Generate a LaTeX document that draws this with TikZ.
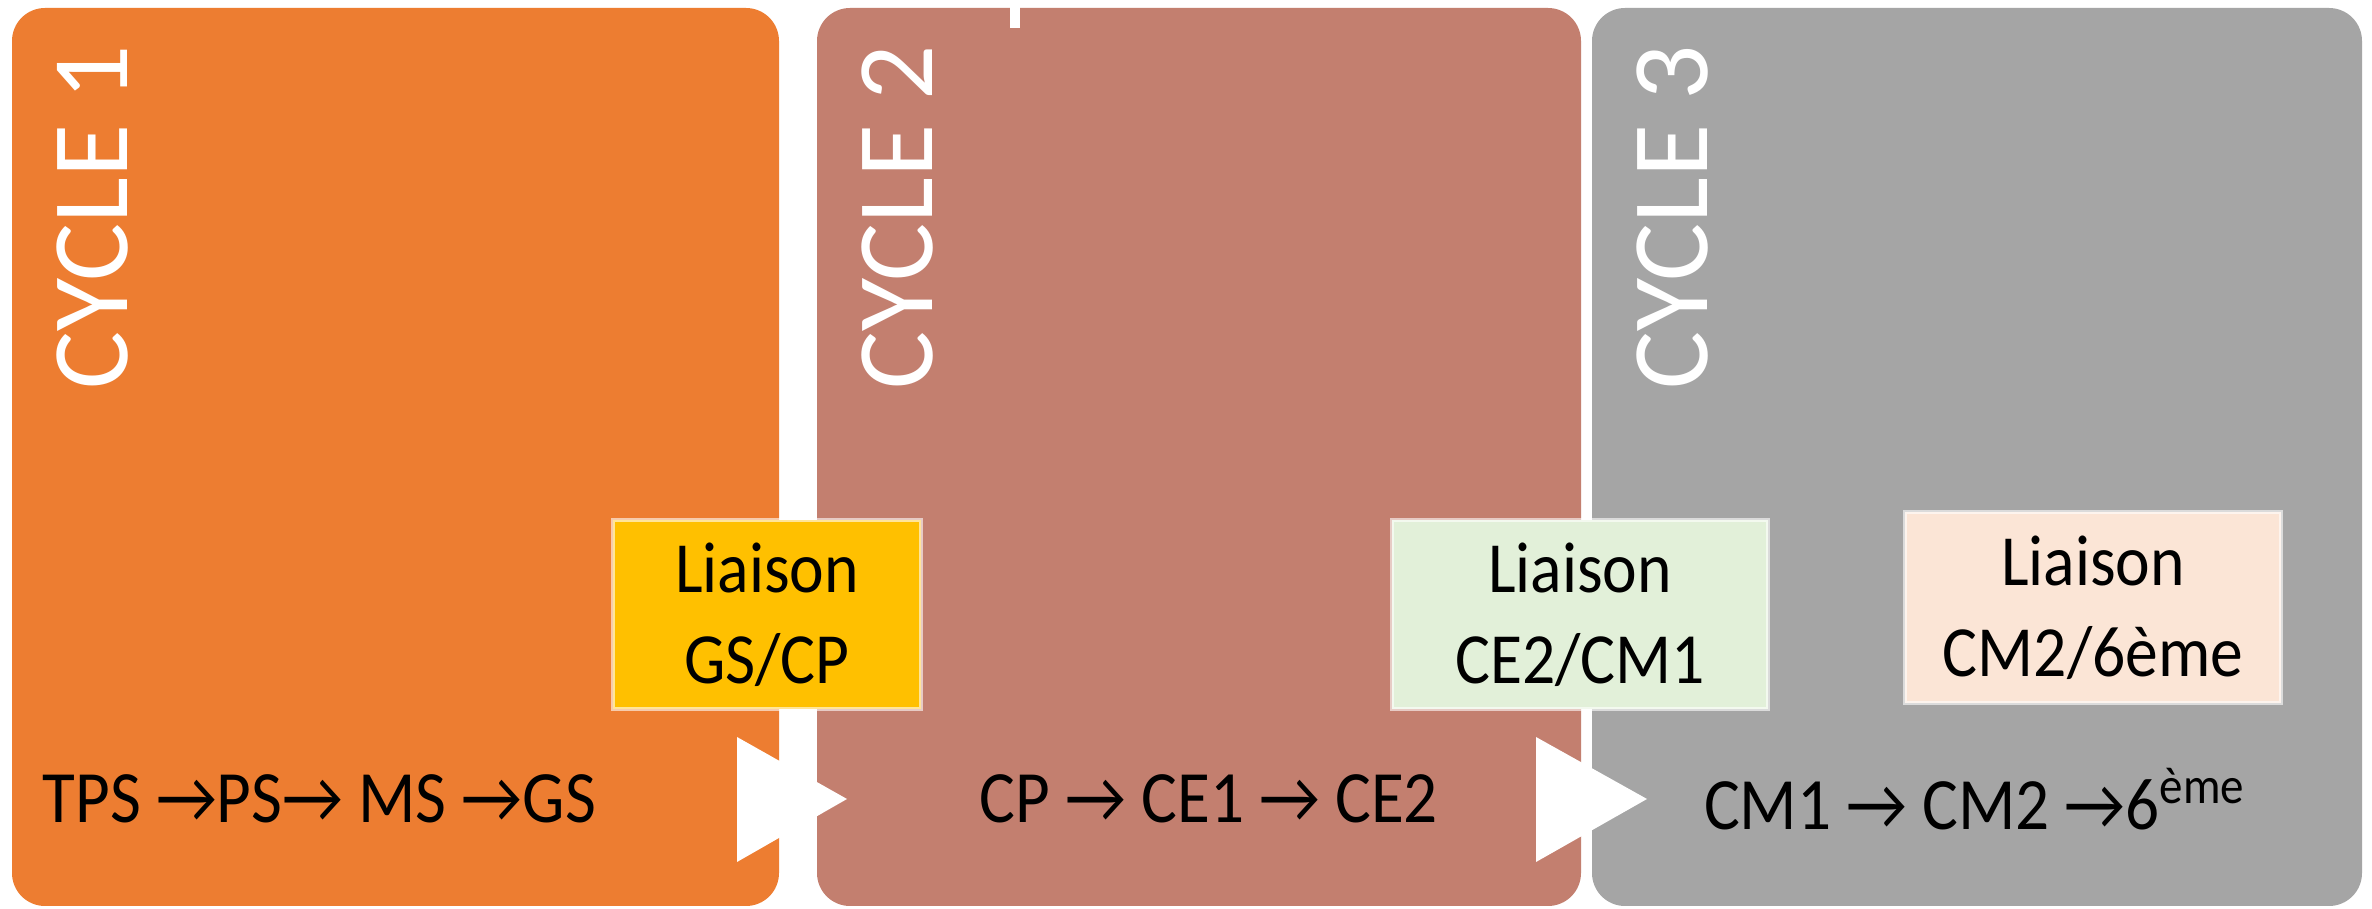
\documentclass[tikz,border=0pt]{standalone}
\usepackage{fontspec}
\setmainfont{Carlito}[FakeStretch=0.91]
\newfontfamily\cycfont{Carlito}
\usepackage{xcolor}
\usetikzlibrary{positioning}
\definecolor{cyc1}{HTML}{ED7D31}
\definecolor{cyc2}{HTML}{C37F6F}
\definecolor{cyc3}{HTML}{A5A5A5}
\definecolor{lia1}{HTML}{FFC000}
\definecolor{lia2}{HTML}{E2F0D9}
\definecolor{lia3}{HTML}{FBE5D6}
\begin{document}
\begin{tikzpicture}[
    panel/.style={rectangle, rounded corners=0.33cm, minimum height=8.98cm, inner sep=0pt},
    cyc/.style={rotate=90, text=white, font=\cycfont\fontsize{31}{36}\selectfont, inner sep=0pt},
    lia/.style={rectangle, draw=white, draw opacity=0.6, line width=1pt, minimum height=1.89cm, align=center, font=\fontsize{20.5}{26}\selectfont},
    row/.style={font=\fontsize{21}{25}\selectfont, inner sep=0pt},
    tri/.style={fill=white}]
      \fill[white, use as bounding box] (0,0) rectangle (23.72,9.09);
      \node[panel, fill=cyc1, minimum width=7.67cm] (c1) at (3.955,4.52) {};
      \node[panel, fill=cyc2, minimum width=7.64cm] (c2) at (11.99,4.52) {};
      \node[panel, fill=cyc3, minimum width=7.70cm] (c3) at (19.77,4.52) {};
      \fill[white] (10.10,9.09) rectangle (10.20,8.81);
      \node[cyc] (t1) at (0.93,6.92) {CYCLE 1};
      \node[cyc] (t2) at (8.98,6.92) {CYCLE 2};
      \node[cyc] (t3) at (16.73,6.92) {CYCLE 3};
      \node[lia, fill=lia1, minimum width=3.08cm] (l1) at (7.67,2.945) {Liaison\\GS/CP};
      \node[lia, fill=lia2, minimum width=3.76cm] (l2) at (15.80,2.945) {Liaison\\CE2/CM1};
      \node[lia, fill=lia3, minimum width=3.76cm, minimum height=1.91cm] (l3) at (20.93,3.015) {Liaison\\CM2/6ème};
      \fill[tri] (7.37,1.72) -- (8.47,1.10) -- (7.37,0.47) -- cycle;
      \fill[tri] (15.36,1.72) -- (16.47,1.10) -- (15.36,0.47) -- cycle;
      \node[row, anchor=west] (r1) at (0.42,1.10) {TPS →PS→ MS →GS};
      \node[row] (r2) at (12.09,1.10) {CP → CE1 → CE2};
      \node[row] (r3) at (19.75,1.10) {CM1 → CM2 →6\textsuperscript{ème}};
\end{tikzpicture}
\end{document}
